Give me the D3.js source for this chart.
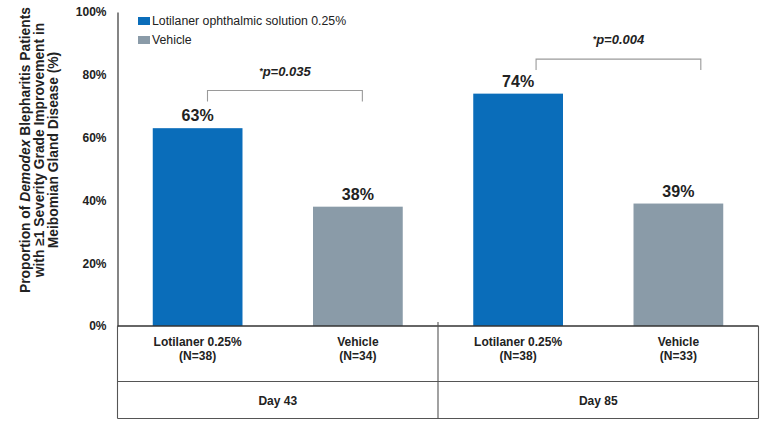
<!DOCTYPE html>
<html>
<head>
<meta charset="utf-8">
<script src="https://cdn.jsdelivr.net/npm/d3@7"></script>
<style>
  body { margin: 0; background: #fff; }
  text { font-family: Arial, "Liberation Sans", sans-serif; fill: #222; }
</style>
</head>
<body>
<div id="chart"></div>
<script>
// data
const series = ["Lotilaner ophthalmic solution 0.25%", "Vehicle"];
const days = ["Day 43", "Day 85"];
const armLabels = ["Lotilaner 0.25%", "Vehicle", "Lotilaner 0.25%", "Vehicle"];
const armN = ["(N=38)", "(N=34)", "(N=38)", "(N=33)"];
const values = [63, 38, 74, 39];
const pValues = ["=0.035", "=0.004"];
const yTicks = [0, 20, 40, 60, 80, 100];

const colors = ["#0a6dba", "#8a9ba8"];

let width = 767, height = 423;
let plotLeft = 117.5, plotRight = 758.5, plotTop = 12, plotBottom = 326;

var svg = d3.select("#chart")
  .append("svg")
  .attr("width", width)
  .attr("height", height);

let y = d3.scaleLinear().domain([0, 100]).range([plotBottom, plotTop]);
let x = d3.scaleBand()
  .domain(d3.range(values.length))
  .range([plotLeft, plotRight])
  .paddingInner(0.44)
  .paddingOuter(0.22);

// bars
svg.selectAll("rect.bar")
  .data(values)
  .enter()
  .append("rect")
  .attr("class", "bar")
  .attr("x", (d, i) => x(i))
  .attr("y", d => y(d))
  .attr("width", x.bandwidth())
  .attr("height", d => plotBottom - y(d))
  .attr("fill", (d, i) => colors[i % 2]);

// value labels
svg.selectAll("text.val")
  .data(values)
  .enter()
  .append("text")
  .attr("class", "val")
  .attr("x", (d, i) => x(i) + x.bandwidth() / 2)
  .attr("y", d => y(d) - 7)
  .attr("text-anchor", "middle")
  .style("font-size", "16px")
  .style("font-weight", "bold")
  .text(d => d + "%");

// y axis
let yAxis = d3.axisLeft(y).tickValues(yTicks).tickFormat(d => d + "%").tickSize(0).tickPadding(11);
let ga = svg.append("g").attr("transform", "translate(" + plotLeft + ",0)").call(yAxis);
ga.select(".domain").attr("stroke", "#333").attr("stroke-width", 1.2);
ga.selectAll("text")
  .style("font-size", "12px")
  .style("font-weight", "bold")
  .style("font-family", "Arial, 'Liberation Sans', sans-serif")
  .attr("fill", "#333");

// y title
let title = svg.append("text")
  .attr("transform", "translate(25,150) rotate(-90)")
  .attr("text-anchor", "middle")
  .style("font-size", "13.8px")
  .style("font-weight", "bold");
title.append("tspan").attr("x", 0).attr("dy", "0.35em").text("Proportion of ");
title.append("tspan").style("font-style", "italic").text("Demodex");
title.append("tspan").text(" Blepharitis Patients");
title.append("tspan").attr("x", 0).attr("dy", 14).text("with \u22651 Severity Grade Improvement in");
title.append("tspan").attr("x", 0).attr("dy", 14).text("Meibomian Gland Disease (%)");

// table below axis
let rowMid = 381.5, tableBottom = 418.5;
let lineColor = "#555";
let table = svg.append("g").attr("stroke", lineColor).attr("stroke-width", 1.1).attr("fill", "none");
table.append("line").attr("x1", plotLeft).attr("x2", plotRight).attr("y1", plotBottom).attr("y2", plotBottom).attr("stroke", "#333").attr("stroke-width", 1.4);
table.append("line").attr("x1", plotLeft).attr("x2", plotRight).attr("y1", rowMid).attr("y2", rowMid);
table.append("line").attr("x1", plotLeft).attr("x2", plotRight).attr("y1", tableBottom).attr("y2", tableBottom);
table.append("line").attr("x1", plotLeft).attr("x2", plotLeft).attr("y1", plotBottom).attr("y2", tableBottom);
table.append("line").attr("x1", plotRight).attr("x2", plotRight).attr("y1", plotBottom).attr("y2", tableBottom);
let mid = (x(1) + x.bandwidth() + x(2)) / 2;
table.append("line").attr("x1", mid).attr("x2", mid).attr("y1", plotBottom - 4).attr("y2", tableBottom);

svg.selectAll("text.arm")
  .data(armLabels)
  .enter()
  .append("text")
  .attr("class", "arm")
  .attr("x", (d, i) => x(i) + x.bandwidth() / 2)
  .attr("y", 346)
  .attr("text-anchor", "middle")
  .style("font-size", "12px")
  .style("font-weight", "bold")
  .text(d => d);

svg.selectAll("text.armn")
  .data(armN)
  .enter()
  .append("text")
  .attr("class", "armn")
  .attr("x", (d, i) => x(i) + x.bandwidth() / 2)
  .attr("y", 360)
  .attr("text-anchor", "middle")
  .style("font-size", "12px")
  .style("font-weight", "bold")
  .text(d => d);

svg.selectAll("text.day")
  .data(days)
  .enter()
  .append("text")
  .attr("class", "day")
  .attr("x", (d, i) => i == 0 ? (plotLeft + mid) / 2 : (mid + plotRight) / 2)
  .attr("y", 405)
  .attr("text-anchor", "middle")
  .style("font-size", "12px")
  .style("font-weight", "bold")
  .text(d => d);

// significance brackets
pValues.forEach((p, g) => {
  let a = g * 2, b = g * 2 + 1;
  let x1 = x(a) + x.bandwidth() * (g == 0 ? 0.61 : 0.7);
  let x2 = x(b) + x.bandwidth() * (g == 0 ? 0.55 : 0.75);
  let yTop = y(values[b] + 37 + g * 9);
  let yBot = yTop + 11;
  svg.append("path")
    .attr("d", "M" + x1 + "," + yBot + "V" + yTop + "H" + x2 + "V" + yBot)
    .attr("fill", "none")
    .attr("stroke", "#9a9a9a")
    .attr("stroke-width", 1.1);
  let t = svg.append("text")
    .attr("x", (x1 + x2) / 2)
    .attr("y", yTop - 15)
    .attr("text-anchor", "middle")
    .style("font-size", "13px")
    .style("font-weight", "bold")
    .style("font-style", "italic");
  t.append("tspan").style("font-size", "9px").attr("dy", -2).text("*");
  t.append("tspan").attr("dy", 2).text("p" + p);
});

// legend
let legend = svg.append("g").attr("transform", "translate(138,17)");
series.forEach((s, i) => {
  legend.append("rect")
    .attr("x", 0)
    .attr("y", i * 19)
    .attr("width", 12)
    .attr("height", 8)
    .attr("fill", colors[i]);
  legend.append("text")
    .attr("x", 14)
    .attr("y", i * 19 + 8)
    .style("font-size", "12.3px")
    .attr("fill", "#444")
    .text(s);
});
</script>
</body>
</html>
